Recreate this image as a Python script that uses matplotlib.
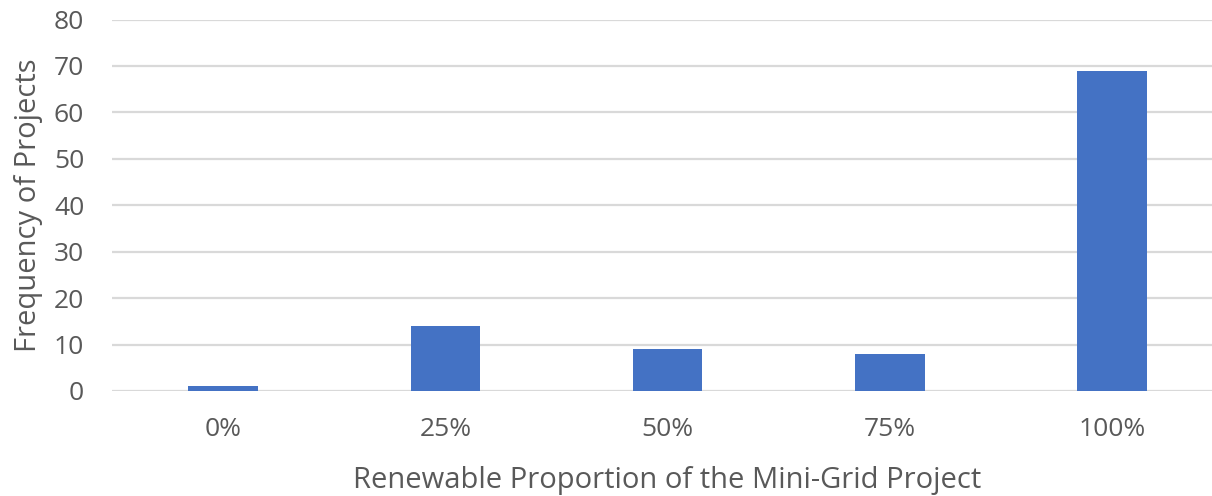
import matplotlib
matplotlib.use("Agg")
import matplotlib.pyplot as plt

categories = ["0%", "25%", "50%", "75%", "100%"]
frequencies = [1, 14, 9, 8, 69]
y_ticks = [0, 10, 20, 30, 40, 50, 60, 70, 80]

plt.rcParams["font.family"] = ["Open Sans", "DejaVu Sans"]
text_color = "#595959"

fig = plt.figure(figsize=(12.12, 4.96), dpi=100)
W, H = 1212, 496
ax = fig.add_axes([112 / W, 105 / H, 1111.25 / W, 371.5 / H])

x = range(len(categories))
ax.bar(x, frequencies, width=0.313, color="#4472C4", zorder=3)

ax.set_xlim(-0.5, len(categories) - 0.5)
ax.set_ylim(0, 80)
ax.set_yticks(y_ticks)
ax.set_xticks(list(x))
ax.set_xticklabels(categories)

ax.yaxis.grid(True, color="#d9d9d9", linewidth=1.6, zorder=0)
ax.set_axisbelow(True)
for side in ["top", "right", "left", "bottom"]:
    ax.spines[side].set_visible(False)
ax.tick_params(axis="both", length=0, labelsize=19, colors=text_color)
ax.tick_params(axis="y", pad=20)
ax.tick_params(axis="x", pad=19)

ax.set_xlabel("Renewable Proportion of the Mini-Grid Project", fontsize=21,
              color=text_color, labelpad=17)
ax.set_ylabel("Frequency of Projects", fontsize=21, color=text_color, labelpad=8)

fig.savefig("out.png", dpi=100)
